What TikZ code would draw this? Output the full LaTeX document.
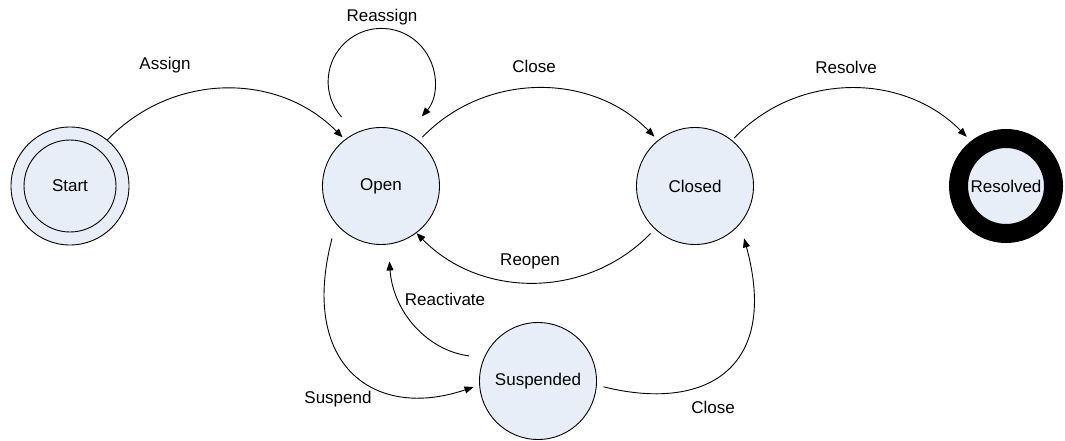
\documentclass[tikz,border=0pt]{standalone}
\usepackage{fontspec}
\setmainfont{Liberation Sans}
\usetikzlibrary{arrows.meta}
\definecolor{statefill}{RGB}{232,238,248}
\begin{document}
\begin{tikzpicture}[x=1pt,y=-1pt,
  font=\fontsize{17}{20}\selectfont,
  state/.style={circle, draw=black, line width=0.9pt, fill=statefill, minimum size=117pt, inner sep=0pt},
  arr/.style={-{Triangle[length=9pt,width=7pt]}, line width=0.9pt},
  lbl/.style={inner sep=0pt}]
\useasboundingbox (0,0) rectangle (1065,441);

% states
\node[state, minimum size=118pt] (start) at (70,186) {};
\node[state, minimum size=92pt] (startin) at (70,186) {Start};
\node[state] (open) at (381,186) {Open};
\node[state] (closed) at (695,186) {Closed};
\node[state] (suspended) at (538,381) {Suspended};
\node[circle, draw=black, line width=19pt, fill=statefill, minimum size=95pt, inner sep=0pt] (resolved) at (1006,186) {Resolved};

% top transitions
\draw[arr, shorten >=3pt] (start.51) .. controls (173,72) and (278,72) .. (open.128);
\draw[arr, shorten <=5pt, shorten >=5pt] (open.50) .. controls (485,72) and (591,72) .. (closed.129);
\draw[arr, shorten <=3pt, shorten >=6pt] (closed.51.5) .. controls (797,72) and (903,72) .. (resolved.128);

% self loop
\coordinate (loopA) at ([shift={(-39.5,-69)}]open.center);
\draw[arr] (loopA) arc[start angle=138.5, end angle=400.8, radius=53.3];

% bottom transitions
\draw[arr, shorten <=6pt] (closed.227.5) .. controls (587,299) and (481,299) .. (open.307);
\draw[arr, shorten <=15pt, shorten >=6pt] (open.220.6) .. controls (299,364) and (373,421) .. (suspended.184.4);
\draw[arr, shorten <=15pt, shorten >=17pt] (suspended.157) .. controls (426,350) and (393,311) .. (open.277.6);
\draw[arr, shorten <=7pt, shorten >=15pt] (suspended.356.5) .. controls (704,412) and (780,370) .. (closed.320);

% labels
\node[lbl] (lassign) at (165,65) {Assign};
\node[lbl] (lreassign) at (382,17) {Reassign};
\node[lbl] (lclose) at (534,66) {Close};
\node[lbl] (lresolve) at (846,67) {Resolve};
\node[lbl] (lreopen) at (530,261) {Reopen};
\node[lbl] (lreact) at (445,299) {Reactivate};
\node[lbl] (lsusp) at (338,399) {Suspend};
\node[lbl] (lclose2) at (713,407) {Close};
\end{tikzpicture}
\end{document}
